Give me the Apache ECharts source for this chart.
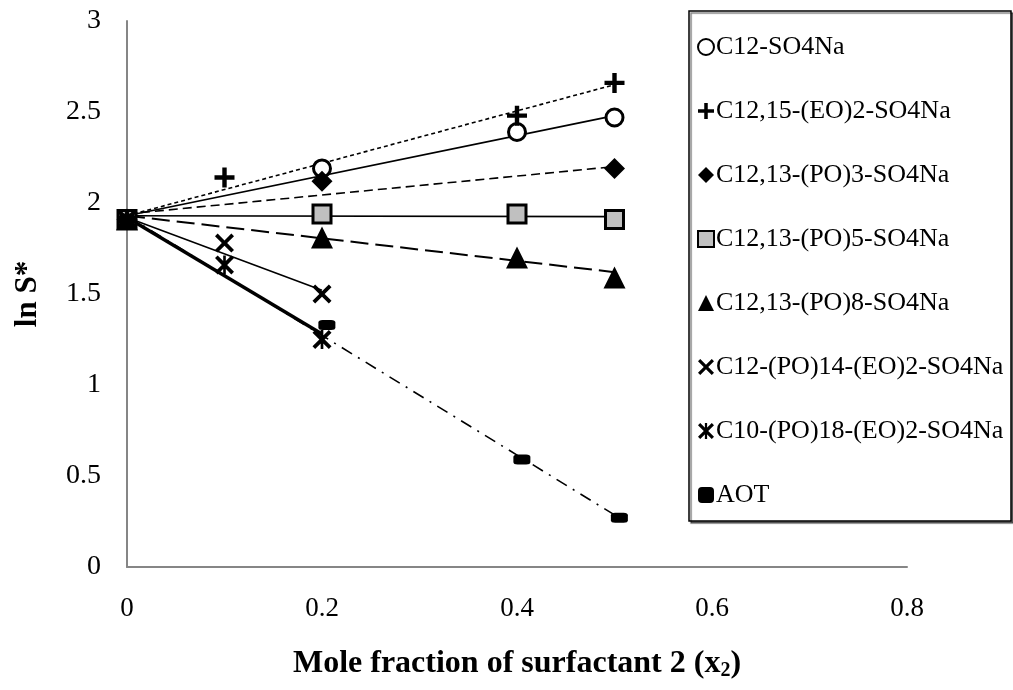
<!DOCTYPE html>
<html>
<head>
<meta charset="utf-8">
<script src="https://cdn.jsdelivr.net/npm/echarts@6/dist/echarts.min.js"></script>
<style>html,body{margin:0;padding:0;background:#fff;}#c{width:1013px;height:690px;}</style>
</head>
<body>
<div id="c"></div>
<script>
// ---- data ----
const xTicks = [0, 0.2, 0.4, 0.6, 0.8];
const yTicks = [0, 0.5, 1, 1.5, 2, 2.5, 3];
const names = ['C12-SO4Na', 'C12,15-(EO)2-SO4Na', 'C12,13-(PO)3-SO4Na', 'C12,13-(PO)5-SO4Na',
  'C12,13-(PO)8-SO4Na', 'C12-(PO)14-(EO)2-SO4Na', 'C10-(PO)18-(EO)2-SO4Na', 'AOT'];
// measured points
const x1 = [0, 0.2, 0.4, 0.5],    y1 = [1.91, 2.19, 2.39, 2.47];
const x2 = [0, 0.1, 0.4, 0.5],    y2 = [1.91, 2.14, 2.48, 2.66];
const x3 = [0, 0.2, 0.5],         y3 = [1.91, 2.12, 2.19];
const x4 = [0, 0.2, 0.4, 0.5],    y4 = [1.91, 1.94, 1.94, 1.91];
const x5 = [0, 0.2, 0.4, 0.5],    y5 = [1.91, 1.81, 1.70, 1.59];
const x6 = [0, 0.1, 0.2],         y6 = [1.91, 1.78, 1.50];
const x7 = [0, 0.1, 0.2],         y7 = [1.91, 1.66, 1.25];
const x8 = [0, 0.205, 0.405, 0.505], y8 = [1.91, 1.33, 0.59, 0.27];
// trend lines (end points)
const tx1 = [0, 0.5],   ty1 = [1.93, 2.48];
const tx2 = [0, 0.5],   ty2 = [1.93, 2.65];
const tx3 = [0, 0.5],   ty3 = [1.94, 2.20];
const tx4 = [0, 0.5],   ty4 = [1.93, 1.925];
const tx5 = [0, 0.5],   ty5 = [1.93, 1.62];
const tx6 = [0, 0.2],   ty6 = [1.92, 1.52];
const tx7 = [0, 0.2],   ty7 = [1.92, 1.28];
const tx8 = [0, 0.505], ty8 = [1.93, 0.27];

// ---- build ----
const FONT = '"Liberation Serif","Times New Roman",serif';
const pts = (xs, ys) => xs.map((x, i) => [x, ys[i]]);
const PLUS = 'path://M39,0H61V39H100V61H61V100H39V61H0V39H39Z';
const CROSS = 'path://M0,14L14,0L50,36L86,0L100,14L64,50L100,86L86,100L50,64L14,100L0,86L36,50Z';
const STAR = 'path://M0,14L14,0L50,36L86,0L100,14L64,50L100,86L86,100L50,64L14,100L0,86L36,50Z M43,0H57V100H43Z';

const markers = [
  {sym: 'circle', size: 17, item: {color: '#fff', borderColor: '#000', borderWidth: 3}},
  {sym: PLUS, size: 20, item: {color: '#000'}},
  {sym: 'diamond', size: 21, item: {color: '#000'}},
  {sym: 'rect', size: 18, item: {color: '#c0c0c0', borderColor: '#000', borderWidth: 3}},
  {sym: 'triangle', size: 22, item: {color: '#000'}},
  {sym: CROSS, size: 19, item: {color: '#000'}},
  {sym: STAR, size: 19, item: {color: '#000'}},
  {sym: 'roundRect', size: [17, 10], item: {color: '#000'}}
];
const lineStyles = [
  {width: 1.6, type: 'solid'},
  {width: 1.6, type: [4, 3]},
  {width: 1.6, type: [9, 5]},
  {width: 1.6, type: 'solid'},
  {width: 2, type: [18, 7]},
  {width: 1.6, type: 'solid'},
  {width: 3.5, type: 'solid'},
  {width: 1.6, type: [12, 7, 2, 7]}
];
const P = [pts(x1,y1), pts(x2,y2), pts(x3,y3), pts(x4,y4), pts(x5,y5), pts(x6,y6), pts(x7,y7), pts(x8,y8)];
const T = [pts(tx1,ty1), pts(tx2,ty2), pts(tx3,ty3), pts(tx4,ty4), pts(tx5,ty5), pts(tx6,ty6), pts(tx7,ty7), pts(tx8,ty8)];

const series = [];
T.forEach((d, i) => series.push({
  name: 'trend' + i, type: 'line', data: d, showSymbol: false, silent: true, z: 2,
  lineStyle: {color: '#000', width: lineStyles[i].width, type: lineStyles[i].type}
}));
P.forEach((d, i) => series.push({
  name: names[i], type: 'scatter', data: d, z: 5,
  symbol: markers[i].sym, symbolSize: markers[i].size,
  itemStyle: Object.assign({opacity: 1}, markers[i].item)
}));

const chart = echarts.init(document.getElementById('c'), null, {renderer: 'canvas'});
chart.setOption({
  animation: false,
  backgroundColor: '#fff',
  grid: {left: 127, right: 106, top: 21, bottom: 123, containLabel: false},
  xAxis: {
    type: 'value', min: xTicks[0], max: xTicks[xTicks.length - 1], interval: 0.2,
    axisLine: {show: true, lineStyle: {color: '#868686', width: 2}},
    axisTick: {show: false}, splitLine: {show: false},
    axisLabel: {color: '#000', fontFamily: FONT, fontSize: 27, margin: 28},
    name: '{a|Mole fraction of surfactant 2 (x}{s|2}{a|)}',
    nameLocation: 'middle', nameGap: 79,
    nameTextStyle: {
      rich: {
        a: {fontFamily: FONT, fontSize: 32, fontWeight: 'bold', color: '#000'},
        s: {fontFamily: FONT, fontSize: 20, fontWeight: 'bold', color: '#000', padding: [15, 0, 0, 0]}
      }
    }
  },
  yAxis: {
    type: 'value', min: yTicks[0], max: yTicks[yTicks.length - 1], interval: 0.5,
    axisLine: {show: true, lineStyle: {color: '#868686', width: 2}},
    axisTick: {show: false}, splitLine: {show: false},
    axisLabel: {color: '#000', fontFamily: FONT, fontSize: 28, margin: 26},
    name: 'ln S*', nameLocation: 'middle', nameGap: 84,
    nameTextStyle: {fontFamily: FONT, fontSize: 31, fontWeight: 'bold', color: '#000'}
  },
  legend: {
    data: names, orient: 'vertical', left: 692, top: 29,
    itemWidth: 16, itemHeight: 16, itemGap: 38,
    textStyle: {fontFamily: FONT, fontSize: 26, color: '#000', padding: [0, 0, 0, -3]},
    selectedMode: false
  },
  graphic: [{
    type: 'rect', z: 1, zlevel: 0,
    shape: {x: 689, y: 11, width: 322, height: 510},
    style: {fill: '#fff', stroke: '#000', lineWidth: 1.5, shadowColor: 'rgba(0,0,0,0.5)', shadowOffsetX: 2, shadowOffsetY: 2, shadowBlur: 1}
  }],
  series: series
});
</script>
</body>
</html>
